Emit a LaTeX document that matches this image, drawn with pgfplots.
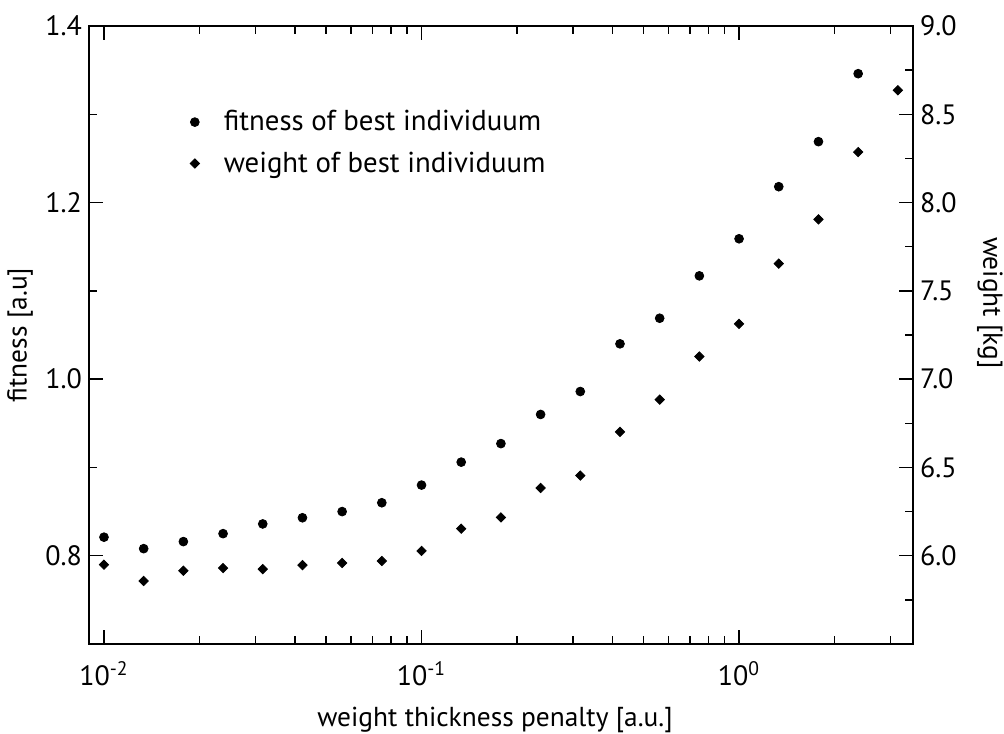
\documentclass[border=0pt]{standalone}
\usepackage{fontspec}
\setmainfont{PT Sans}
\usepackage{pgfplots}
\usepackage{pgfplotstable}
\pgfplotsset{compat=1.18}

% penalty, fitness of best individuum
\pgfplotstableread{
x fit
0.01     0.821
0.013335 0.808
0.017783 0.816
0.023714 0.825
0.031623 0.836
0.04217  0.843
0.056234 0.850
0.074989 0.860
0.1      0.880
0.13335  0.906
0.17783  0.927
0.23714  0.960
0.31623  0.986
0.4217   1.040
0.56234  1.069
0.74989  1.117
1.0      1.159
1.3335   1.218
1.7783   1.269
2.3714   1.346
}\fitness

% penalty, weight of best individuum [kg]
\pgfplotstableread{
x w
0.01     5.949
0.013335 5.857
0.017783 5.915
0.023714 5.930
0.031623 5.924
0.04217  5.947
0.056234 5.959
0.074989 5.970
0.1      6.027
0.13335  6.153
0.17783  6.217
0.23714  6.384
0.31623  6.454
0.4217   6.701
0.56234  6.884
0.74989  7.128
1.0      7.313
1.3335   7.654
1.7783   7.905
2.3714   8.286
3.1623   8.636
}\weight

\pgfplotsset{
  every axis/.append style={
    tick align=inside,
    major tick length=7pt, minor tick length=4.2pt,
    every tick/.style={black, line width=0.75pt},
    axis line style={line width=0.8pt},
    tick label style={font=\fontsize{14}{16}\selectfont},
    label style={font=\fontsize{13.7}{16}\selectfont},
  },
}

\begin{document}
\begin{tikzpicture}
\begin{axis}[
  width=412pt, height=309pt, scale only axis,
  xmode=log, xmin=0.00897, xmax=3.53,
  ymin=0.7, ymax=1.4,
  ytick={0.8,1.0,1.2,1.4}, minor ytick={0.9,1.1,1.3},
  ytick pos=left,
  yticklabel style={/pgf/number format/fixed, /pgf/number format/fixed zerofill, /pgf/number format/precision=1, /pgf/number format/assume math mode=true},
  xtick={0.01,0.1,1},
  xticklabels={10\textsuperscript{-2},10\textsuperscript{-1},10\textsuperscript{0}},
  minor xtick={0.02,0.03,0.04,0.05,0.06,0.07,0.08,0.09,0.2,0.3,0.4,0.5,0.6,0.7,0.8,0.9,2,3},
  xtick pos=both, xticklabel pos=bottom,
  xticklabel style={yshift=-5pt},
  xlabel={weight thickness penalty [a.u.]},
  xlabel style={at={(axis description cs:0.4927,-0.134)}, anchor=base, inner sep=0pt},
  ylabel={fitness [a.u]},
  ylabel style={at={(axis description cs:-0.0837,0.5)}, anchor=center},
]
\addplot[only marks, mark=*, mark size=2.2pt, black] table[x=x, y=fit] {\fitness};
\end{axis}
\begin{axis}[
  width=412pt, height=309pt, scale only axis,
  xmode=log, xmin=0.00897, xmax=3.53,
  ymin=5.5, ymax=9.0,
  ytick={6.0,6.5,...,9.0}, minor ytick={5.75,6.25,...,8.75},
  yticklabel style={/pgf/number format/fixed, /pgf/number format/fixed zerofill, /pgf/number format/precision=1, /pgf/number format/assume math mode=true},
  axis x line=none, axis y line*=right,
  ytick pos=right, yticklabel pos=right,
  ylabel={weight [kg]},
  every axis y label/.style={at={(axis description cs:1.0934,0.552)}, rotate=-90, anchor=center, font=\fontsize{13.7}{16}\selectfont},
  legend style={at={(axis description cs:0.115,0.877)}, anchor=north west,
    draw=none, fill=none, font=\fontsize{14.4}{17}\selectfont,
    row sep=5pt},
  legend cell align=left,
  legend image code/.code={\draw[#1] plot coordinates {(0pt,0pt)}; \path[draw=none, fill=none] (0pt,0pt) -- (12.5pt,0pt);},
]
\addlegendimage{only marks, mark=*, mark size=2.2pt, black}
\addlegendentry{fitness of best individuum}
\addplot[only marks, mark=square*, mark size=1.65pt, mark options={rotate=45}, black] table[x=x, y=w] {\weight};
\addlegendentry{weight of best individuum}
\end{axis}
\pgfresetboundingbox
\useasboundingbox (-44.5pt,-44.5pt) rectangle (457.5pt,322pt);
\end{tikzpicture}
\end{document}
